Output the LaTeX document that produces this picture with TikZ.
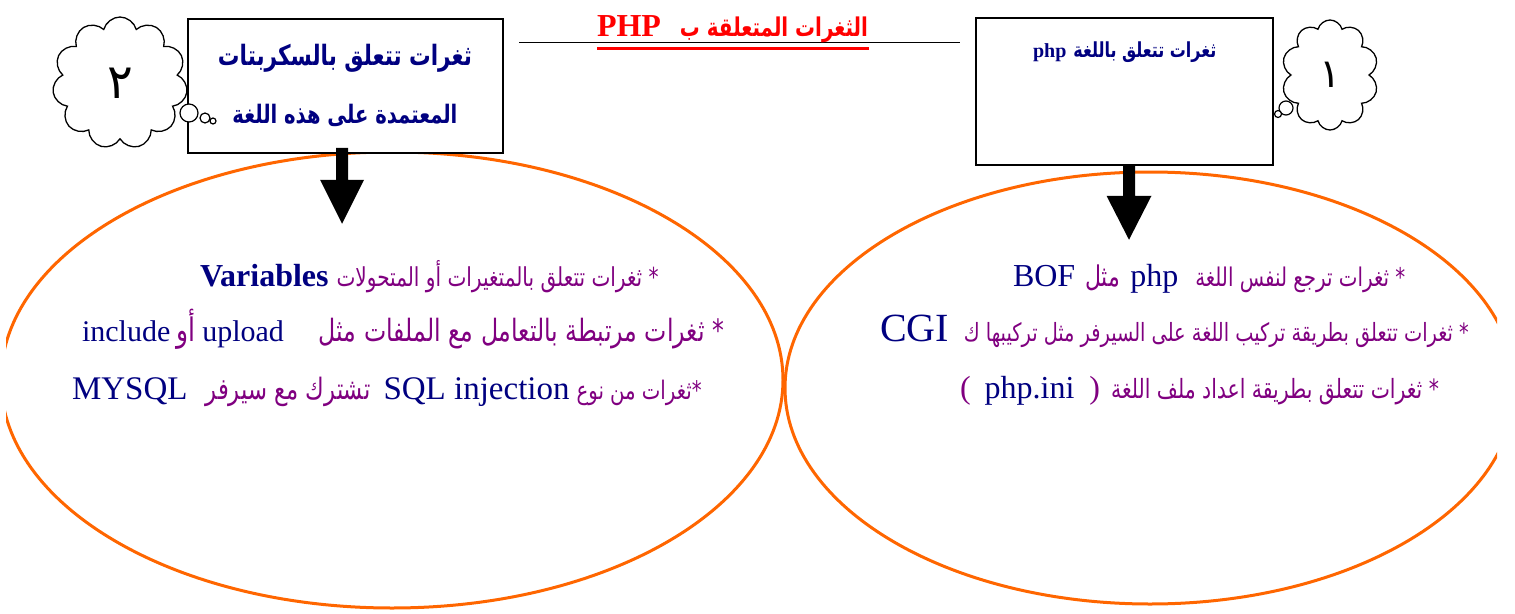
\documentclass[tikz,border=0pt]{standalone}
\usepackage{fontspec}
\usepackage{graphicx}
\setmainfont{Liberation Serif}
\newfontfamily\arabicfont[Script=Arabic]{DejaVu Sans}
\TeXXeTstate=1
\usetikzlibrary{shapes.symbols}
\definecolor{navy}{RGB}{0,0,128}
\definecolor{arp}{RGB}{128,0,128}
\definecolor{orng}{RGB}{255,102,0}
\definecolor{ttlred}{RGB}{255,0,0}
\newcommand{\arseg}[3]{\scalebox{1}[1.3]{\resizebox{#2pt}{!}{\color{#1}\arabicfont #3}}}
\newcommand{\arsegb}[3]{\scalebox{1}[1.3]{\resizebox{#2pt}{!}{\color{#1}\arabicfont\bfseries #3}}}
\newcommand{\latseg}[3][navy]{{\fontsize{#2}{#2}\selectfont\color{#1}#3}}
\tikzset{
  boxnode/.style={draw=black, line width=1.5pt, fill=white, inner sep=0pt},
  textline/.style={anchor=base west, inner sep=0pt, outer sep=0pt},
  thought/.style={cloud, draw=black, fill=white, line width=1.3pt, inner sep=0pt, aspect=1},
  bubble/.style={circle, draw=black, fill=white, line width=1.2pt, inner sep=0pt},
  ovalline/.style={draw=orng, line width=3pt},
  blockarrow/.style={fill=black},
}
\begin{document}
\begin{tikzpicture}[x=1pt,y=-1pt]
\useasboundingbox (0,0) rectangle (1515,613);
% ovals
\begin{scope}
\clip (6,0) rectangle (1497,613);
\draw[ovalline] (392,380) ellipse [x radius=391pt, y radius=228pt];
\draw[ovalline] (1150,388) ellipse [x radius=365pt, y radius=216pt];
\end{scope}
% title
\draw[black, line width=1pt] (519,42) -- (960,42);
\draw[ttlred, line width=3pt] (597,48) -- (869,48);
\node[textline] (title) at (597,36) {\latseg[ttlred]{32}{\bfseries PHP}\hspace{19pt}\arsegb{ttlred}{188}{\beginR الثغرات المتعلقة ب\endR}};
% boxes
\node[boxnode, minimum width=315pt, minimum height=134pt] (lbox) at (345.5,86) {};
\node[boxnode, minimum width=297pt, minimum height=147pt] (rbox) at (1124.5,91.5) {};
\node[anchor=center, inner sep=0pt] (lboxt1) at (345,58) {\arsegb{navy}{254}{\beginR ثغرات تتعلق بالسكربتات\endR}};
\node[anchor=center, inner sep=0pt] (lboxt2) at (345,115) {\arsegb{navy}{225}{\beginR المعتمدة على هذه اللغة\endR}};
\node[textline] (rboxt) at (1033,57) {\latseg{20}{\bfseries php}\hspace{7pt}\arsegb{navy}{143}{\beginR ثغرات تتعلق باللغة\endR}};
% clouds
\node[thought, cloud puffs=11, minimum width=135pt, minimum height=132pt] (c2) at (120,83) {\fontsize{48}{48}\selectfont\arabicfont ٢};
\node[bubble, minimum size=18pt] (c2b1) at (189,113) {};
\node[bubble, minimum size=10pt] (c2b2) at (205,118) {};
\node[bubble, minimum size=6pt] (c2b3) at (213,121) {};
\node[thought, cloud puffs=10, minimum width=97pt, minimum height=110pt] (c1) at (1330,75) {\fontsize{40}{40}\selectfont\arabicfont ١};
\node[bubble, minimum size=14pt] (c1b1) at (1286,108) {};
\node[bubble, minimum size=7pt] (c1b2) at (1278,114) {};
% block arrows
\fill[blockarrow] ([xshift=-9.5pt,yshift=6pt]lbox.south) -- ++(12,0) -- ++(0,32) -- ++(16,0) -- ++(-22,44) -- ++(-22,-44) -- ++(16,0) -- cycle;
\fill[blockarrow] ([xshift=-1.5pt,yshift=1pt]rbox.south) -- ++(12,0) -- ++(0,31) -- ++(16.5,0) -- ++(-22.5,44) -- ++(-22.5,-44) -- ++(16.5,0) -- cycle;
% left oval text
\node[textline] (l1) at (200,286) {\latseg{32}{\bfseries Variables}\hspace{8pt}\arseg{arp}{322}{\beginR * ثغرات تتعلق بالمتغيرات أو المتحولات\endR}};
\node[textline] (l2) at (82,341) {\latseg{30}{include}\hspace{6pt}\arseg{arp}{19}{\beginR أو\endR}\hspace{7pt}\latseg{30}{upload}\hspace{35pt}\arseg{arp}{405}{\beginR * ثغرات مرتبطة بالتعامل مع الملفات مثل\endR}};
\node[textline] (l3) at (72,399) {\latseg{33}{MYSQL}\hspace{18pt}\arseg{arp}{165}{\beginR تشترك مع سيرفر\endR}\hspace{13pt}\latseg{33}{SQL injection}\hspace{7pt}\arseg{arp}{125}{\beginR *ثغرات من نوع\endR}};
% right oval text
\node[textline] (r1) at (1013,286) {\latseg{32}{BOF}\hspace{10pt}\arseg{arp}{35}{\beginR مثل\endR}\hspace{10pt}\latseg{32}{php}\hspace{17pt}\arseg{arp}{210}{\beginR * ثغرات ترجع لنفس اللغة\endR}};
\node[textline] (r2) at (880,341) {\latseg{40}{CGI}\hspace{15pt}\arseg{arp}{505}{\beginR * ثغرات تتعلق بطريقة تركيب اللغة على السيرفر مثل تركيبها ك\endR}};
\node[textline] (r3) at (960,398) {\latseg[arp]{32}{(}\hspace{14pt}\latseg{32}{php.ini}\hspace{15pt}\latseg[arp]{32}{)}\hspace{11pt}\arseg{arp}{328}{\beginR * ثغرات تتعلق بطريقة اعداد ملف اللغة\endR}};
\end{tikzpicture}
\end{document}
